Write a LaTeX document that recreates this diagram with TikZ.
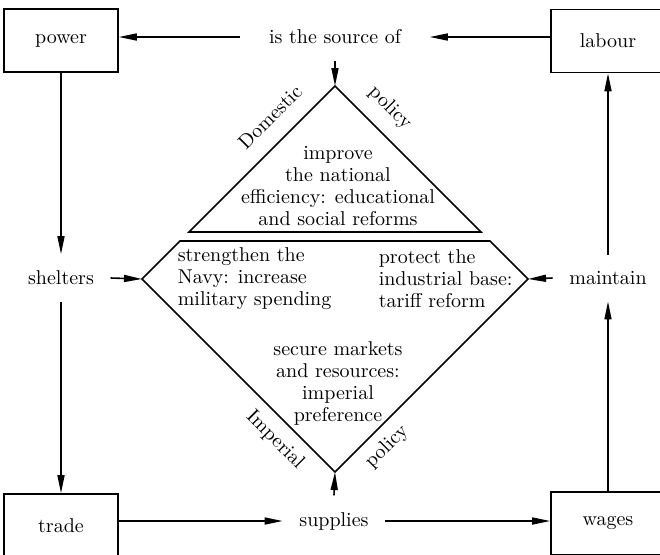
\documentclass[tikz,border=0pt]{standalone}
\usetikzlibrary{arrows.meta}

\begin{document}
\begin{tikzpicture}[x=0.5pt, y=-0.5pt, line width=0.8pt,
    font=\fontsize{10}{11}\selectfont,
    box/.style={draw, minimum width=57pt, minimum height=31.5pt, inner sep=0pt},
    lbl/.style={inner xsep=8pt, inner ysep=8pt},
    arr/.style={-{Triangle[length=9pt, width=3.5pt]}}]
\useasboundingbox (0, 0) rectangle (660, 554);
\clip (0, 0) rectangle (660, 554);

% Corners
\node[box] (power) at (61, 40.5) {power};
\node[box] (labour) at (608, 41) {labour};
\node[box] (trade) at (61, 525.5) {trade};
\node[box] (wages) at (608, 523.5) {wages};

% Sides
\node[lbl, inner xsep=14pt] (source) at (335, 37) {is the source of};
\node[lbl] (shelters) at (61, 278) {shelters};
\node[lbl] (maintain) at (608, 278) {maintain};
\node[lbl] (supplies) at (334, 521) {supplies};

% Diamond
\coordinate (dtop) at (335, 86);
\coordinate (dleft) at (142, 279);
\coordinate (dright) at (528, 279);
\coordinate (dbottom) at (335, 472);
\draw (dtop) -- (189, 232) -- (481, 232) -- cycle;
\draw (180, 241) -- (490, 241) -- (dright) -- (dbottom) -- (dleft) -- cycle;

\node[rotate=45, inner sep=0pt] (domestic) at (270, 117) {Domestic};
\node[rotate=-45, inner sep=0pt] (dompolicy) at (390, 108) {policy};
\node[rotate=-45, inner sep=0pt] (imperial) at (275, 440) {Imperial};
\node[rotate=45, inner sep=0pt] (imppolicy) at (387, 447) {policy};

\node[align=center, inner sep=0pt] (efficiency) at (338, 186) {improve\\the national\\efficiency: educational\\and social reforms};
\node[align=left, anchor=west, inner sep=0pt] (navy) at (177, 279) {strengthen the\\Navy: increase\\military spending};
\node[align=left, anchor=west, inner sep=0pt] (tariff) at (378, 279) {protect the\\industrial base:\\tariff reform};
\node[align=center, inner sep=0pt] (markets) at (338, 383) {secure markets\\and resources:\\imperial\\preference};

% Connectors
\draw[arr] (source.west) -- (source.west -| power.east);
\draw[arr] (labour.west |- source.east) -- (source.east);
\draw[arr] (source.south) -- (dtop);
\draw[arr] (power.south) -- (shelters.north);
\draw[arr] (shelters.south) -- (trade.north);
\draw[arr] (shelters.east) -- (dleft);
\draw[arr] (maintain.west) -- (dright);
\draw[arr] (wages.north) -- (maintain.south);
\draw[arr] (maintain.north) -- (labour.south);
\draw[arr] (trade.east |- supplies) -- (supplies.west);
\draw[arr] (supplies.east) -- (wages.west |- supplies);
\draw[arr] (supplies.north) -- (dbottom);
\end{tikzpicture}
\end{document}
